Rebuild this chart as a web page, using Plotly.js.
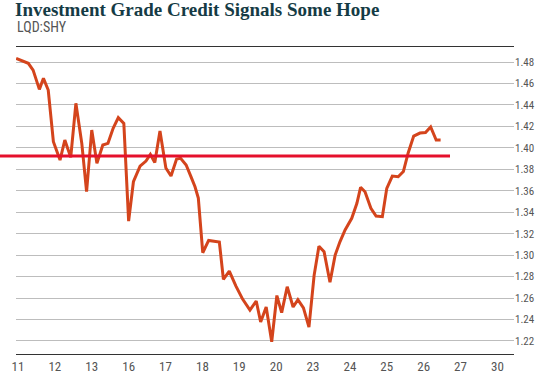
<!DOCTYPE html>
<html>
<head>
<meta charset="utf-8">
<script src="https://cdn.plot.ly/plotly-3.0.1.min.js"></script>
<style>html,body{margin:0;padding:0;background:#fff;}#chart{width:540px;height:378px;}</style>
</head>
<body>
<div id="chart"></div>
<script>
// Trading-day tick labels (dates of the month)
var dayLabels = ["11","12","13","16","17","18","19","20","23","24","25","26","27","30"];
var dayPositions = [0,1,2,3,4,5,6,7,8,9,10,11,12,13];

// Time position (in trading days from the 11th) of each reading
var timePos = [-0.05,0.28,0.41,0.58,0.69,0.82,0.96,1.14,1.27,1.43,1.57,1.73,1.86,2.00,2.14,2.30,2.44,2.58,2.72,2.87,
  3.00,3.13,3.31,3.47,3.59,3.71,3.85,4.01,4.15,4.30,4.41,4.56,4.69,4.80,4.89,5.01,5.17,5.46,5.57,5.73,
  5.91,6.09,6.29,6.46,6.58,6.73,6.88,7.02,7.15,7.30,7.46,7.59,7.74,7.89,8.03,8.16,8.30,8.46,8.60,8.73,
  8.87,9.05,9.19,9.29,9.41,9.57,9.71,9.88,10.00,10.15,10.31,10.45,10.58,10.73,10.90,11.05,11.19,11.34,11.46];

// LQD:SHY ratio
var ratio = [1.4834,1.4788,1.4725,1.4545,1.4648,1.4539,1.4057,1.3886,1.4073,1.3911,1.4415,1.4042,1.3591,1.4166,1.3855,1.4026,1.4042,1.4182,1.4281,1.4228,
  1.3317,1.3684,1.3830,1.3877,1.3938,1.3863,1.4157,1.3812,1.3737,1.3896,1.3902,1.3840,1.3731,1.3637,1.3532,1.3022,1.3137,1.3122,1.2774,1.2851,
  1.2711,1.2590,1.2488,1.2572,1.2376,1.2516,1.2192,1.2623,1.2464,1.2705,1.2516,1.2585,1.2508,1.2329,1.2811,1.3082,1.3031,1.2747,1.3000,1.3124,
  1.3234,1.3343,1.3483,1.3632,1.3591,1.3436,1.3364,1.3358,1.3622,1.3737,1.3731,1.3779,1.3952,1.4110,1.4138,1.4143,1.4194,1.4073,1.4073];

// Reference level
var refLevel = 1.3924;

var yTicks = [1.22,1.24,1.26,1.28,1.30,1.32,1.34,1.36,1.38,1.40,1.42,1.44,1.46,1.48];

var narrow = "'Liberation Sans Narrow', 'Roboto Condensed', 'DejaVu Sans Condensed', Roboto, sans-serif";

var trace = {
  x: timePos, y: ratio, type: 'scatter', mode: 'lines',
  line: {color: '#d4441c', width: 3}, hoverinfo: 'skip'
};

var W = 540, L = 16, R = 26;
var plotW = W - L - R;
function paperX(px){ return (px - L) / plotW; }

var layout = {
  width: 540, height: 378,
  margin: {l: L, r: R, t: 47, b: 24},
  paper_bgcolor: '#ffffff', plot_bgcolor: '#ffffff',
  showlegend: false,
  title: {
    text: 'Investment Grade Credit Signals Some Hope',
    font: {family: "'Liberation Serif', 'DejaVu Serif', serif", size: 19, color: '#153b45', weight: 'bold'},
    x: 15/540, xanchor: 'left', xref: 'container',
    y: 1 - 3/378, yanchor: 'top', yref: 'container', pad: {t: 0, l: 0, r: 0, b: 0}
  },
  annotations: [{
    text: 'LQD:SHY', xref: 'paper', yref: 'paper',
    x: paperX(15), y: 1 + (47 - 27.5)/307, xanchor: 'left', yanchor: 'middle',
    showarrow: false, font: {family: narrow, size: 14, color: '#555555'}
  }],
  shapes: [{
    type: 'line', xref: 'paper', yref: 'y',
    x0: paperX(0), x1: paperX(450), y0: refLevel, y1: refLevel,
    line: {color: '#e5102c', width: 3}, layer: 'above'
  }],
  xaxis: {
    type: 'linear', range: [-0.054, 13.45],
    tickmode: 'array', tickvals: dayPositions, ticktext: dayLabels,
    showgrid: false, zeroline: false,
    showline: true, mirror: true, linecolor: '#333333', linewidth: 1.2,
    ticks: '', tickfont: {family: narrow, size: 13, color: '#555555'},
    fixedrange: true
  },
  yaxis: {
    side: 'right', range: [1.2078, 1.494],
    tickmode: 'array', tickvals: yTicks, ticktext: yTicks.map(function(v){return v.toFixed(2);}),
    showgrid: true, gridcolor: '#bdbdbd', gridwidth: 1,
    zeroline: false, showline: false, ticks: '',
    tickfont: {family: narrow, size: 11, color: '#555555'},
    fixedrange: true
  }
};

Plotly.newPlot('chart', [trace], layout, {displayModeBar: false, staticPlot: true});
</script>
</body>
</html>
